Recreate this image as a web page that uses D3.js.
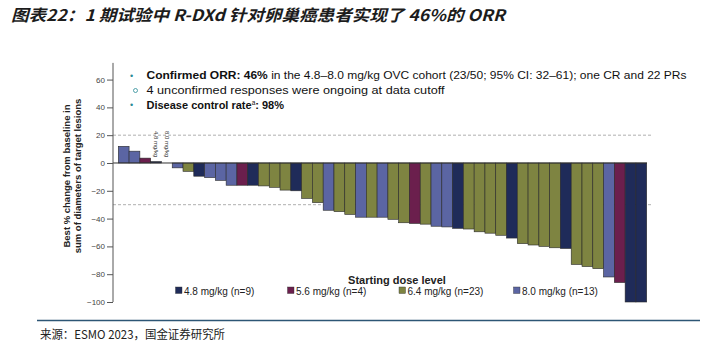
<!DOCTYPE html>
<html>
<head>
<meta charset="utf-8">
<script src="https://cdn.jsdelivr.net/npm/d3@7"></script>
<style>
  body { margin: 0; background: #fff; }
  svg { display: block; font-family: "Liberation Sans", Arial, sans-serif; }
</style>
</head>
<body>
<div id="chart"></div>
<script>
// best % change per patient, sorted, and the starting dose group of each bar
const values = [12, 8.5, 3.5, 1, 0, -3.5, -6, -9.5, -10.5, -12.5,
  -16, -16, -16, -16.5, -17.5, -19.5, -20, -25.5, -28.5, -34,
  -35, -37, -39, -39, -39, -40.5, -43, -43.5, -44, -45.5,
  -46, -47, -47.5, -49.5, -50.5, -52, -54, -58, -59, -60,
  -61, -61.5, -73, -74.5, -76, -82, -86, -100, -100];
const doses = ["8.0", "8.0", "5.6", "4.8", "8.0", "8.0", "6.4", "4.8", "8.0", "8.0",
  "8.0", "5.6", "4.8", "6.4", "6.4", "6.4", "4.8", "6.4", "6.4", "8.0",
  "6.4", "6.4", "8.0", "6.4", "8.0", "6.4", "6.4", "5.6", "6.4", "8.0",
  "8.0", "4.8", "6.4", "6.4", "6.4", "6.4", "4.8", "6.4", "6.4", "6.4",
  "6.4", "4.8", "6.4", "6.4", "6.4", "8.0", "5.6", "4.8", "4.8"];
const doseLevels = ["4.8", "5.6", "6.4", "8.0"];
const doseCounts = [9, 4, 23, 13];
const yTicks = [60, 40, 20, 0, -20, -40, -60, -80, -100];
const refLines = [20, -30];

const width = 717, height = 347;
const colors = d3.scaleOrdinal()
  .domain(doseLevels)
  .range(["#1f2b59", "#6b1f4d", "#7e8441", "#5b65a3"]);

const svg = d3.select("#chart").append("svg")
  .attr("width", width)
  .attr("height", height);

// title
svg.append("text")
  .attr("x", 11)
  .attr("y", 21)
  .attr("font-family", "'Noto Sans CJK SC', sans-serif")
  .attr("font-size", 16)
  .attr("font-weight", "bold")
  .attr("font-style", "italic")
  .attr("fill", "#1c1c1c")
  .attr("textLength", 494)
  .attr("lengthAdjust", "spacingAndGlyphs")
  .text("图表22：1 期试验中 R-DXd 针对卵巢癌患者实现了 46%的 ORR");

const x = d3.scaleBand()
  .domain(d3.range(values.length))
  .range([118.3, 646.7])
  .padding(0);

const y = d3.scaleLinear()
  .domain([-100, 72])
  .range([302, 62.9]);

// dashed reference lines
svg.selectAll(".ref")
  .data(refLines)
  .enter().append("line")
  .attr("x1", 113)
  .attr("x2", 652)
  .attr("y1", d => y(d))
  .attr("y2", d => y(d))
  .attr("stroke", "#9a9a9a")
  .attr("stroke-width", 0.8)
  .attr("stroke-dasharray", "3,2");

// bars
svg.selectAll(".bar")
  .data(values)
  .enter().append("rect")
  .attr("x", (d, i) => x(i))
  .attr("width", x.bandwidth())
  .attr("y", d => y(Math.max(0, d)))
  .attr("height", d => Math.abs(y(d) - y(0)))
  .attr("fill", (d, i) => colors(doses[i]))
  .attr("stroke", "#2a2a2a")
  .attr("stroke-width", 0.6);

// zero line
svg.append("line")
  .attr("x1", 113)
  .attr("x2", 647)
  .attr("y1", y(0))
  .attr("y2", y(0))
  .attr("stroke", "#333")
  .attr("stroke-width", 1);

// y axis
const yAxis = svg.append("g")
  .attr("transform", "translate(113,0)")
  .call(d3.axisLeft(y).tickValues(yTicks).tickSize(6).tickPadding(2));
yAxis.select(".domain").attr("stroke", "#555").attr("d", `M0,${y(72)}V${y(-100)}`);
yAxis.selectAll(".tick line").attr("stroke", "#555");
yAxis.selectAll(".tick text")
  .attr("font-size", 8)
  .attr("fill", "#444")
  .attr("font-family", "'Liberation Sans', Arial, sans-serif");

// y axis title
const yTitle = svg.append("text")
  .attr("transform", "translate(70,176) rotate(-90)")
  .attr("text-anchor", "middle")
  .attr("font-size", 9.5)
  .attr("font-weight", "bold")
  .attr("fill", "#222");
yTitle.append("tspan").attr("x", 0).attr("y", 0).text("Best % change from baseline in");
yTitle.append("tspan").attr("x", 0).attr("y", 10.5).text("sum of diameters of target lesions");

// small dose labels above the first bars
[[3, "4.8 mg/kg"], [4, "8.0 mg/kg"]].forEach(([i, t]) => {
  svg.append("text")
    .attr("transform", `translate(${x(i) + x.bandwidth() / 2 - 2},131) rotate(90)`)
    .attr("font-size", 6)
    .attr("fill", "#333")
    .text(t);
});

// annotation block
const note = svg.append("g").attr("font-size", 11).attr("fill", "#111");
note.append("text").attr("x", 130).attr("y", 79).attr("fill", "#2a8a95").attr("font-size", 9).text("•");
const l1 = note.append("text").attr("x", 146.5).attr("y", 79)
  .attr("textLength", 540).attr("lengthAdjust", "spacingAndGlyphs");
l1.append("tspan").attr("font-weight", "bold").text("Confirmed ORR: 46%");
l1.append("tspan").text(" in the 4.8–8.0 mg/kg OVC cohort (23/50; 95% CI: 32–61); one CR and 22 PRs");
note.append("circle").attr("cx", 135.5).attr("cy", 90.5).attr("r", 2)
  .attr("fill", "none").attr("stroke", "#2a8a95").attr("stroke-width", 0.8);
note.append("text").attr("x", 146.5).attr("y", 94).attr("textLength", 298)
  .attr("lengthAdjust", "spacingAndGlyphs")
  .text("4 unconfirmed responses were ongoing at data cutoff");
note.append("text").attr("x", 130).attr("y", 108).attr("fill", "#2a8a95").attr("font-size", 9).text("•");
const l3 = note.append("text").attr("x", 146.5).attr("y", 108.5).attr("font-weight", "bold");
l3.append("tspan").text("Disease control rate");
l3.append("tspan").attr("font-size", 6.5).attr("font-weight", "normal").attr("dy", -4).text("a");
l3.append("tspan").attr("dy", 4).text(": 98%");

// legend
svg.append("text")
  .attr("x", 397)
  .attr("y", 284)
  .attr("text-anchor", "middle")
  .attr("font-size", 11)
  .attr("font-weight", "bold")
  .attr("fill", "#222")
  .text("Starting dose level");

const legendX = [175.5, 287.5, 399, 513.5];
const legend = svg.selectAll(".leg")
  .data(doseLevels)
  .enter().append("g")
  .attr("transform", (d, i) => `translate(${legendX[i]},287)`);
legend.append("rect")
  .attr("width", 6.5)
  .attr("height", 6.5)
  .attr("fill", d => colors(d))
  .attr("stroke", "#333")
  .attr("stroke-width", 0.4);
legend.append("text")
  .attr("x", 8.5)
  .attr("y", 7.5)
  .attr("font-size", 10)
  .attr("fill", "#222")
  .text((d, i) => `${d} mg/kg (n=${doseCounts[i]})`);

// footer
svg.append("line")
  .attr("x1", 37)
  .attr("x2", 700)
  .attr("y1", 320.5)
  .attr("y2", 320.5)
  .attr("stroke", "#2d5675")
  .attr("stroke-width", 1.5);

svg.append("text")
  .attr("x", 40)
  .attr("y", 339)
  .attr("font-family", "'Noto Sans CJK SC', sans-serif")
  .attr("font-size", 12)
  .attr("fill", "#222")
  .attr("textLength", 185)
  .attr("lengthAdjust", "spacingAndGlyphs")
  .text("来源：ESMO 2023，国金证券研究所");
</script>
</body>
</html>
